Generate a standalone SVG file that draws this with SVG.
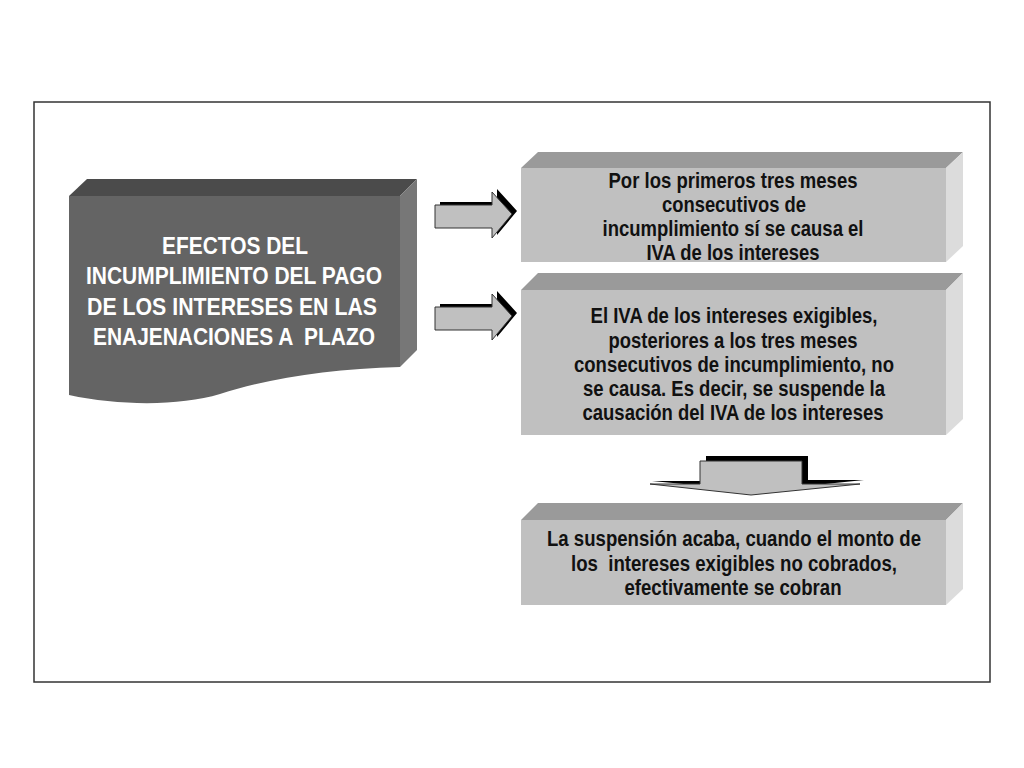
<svg xmlns="http://www.w3.org/2000/svg" width="1024" height="768" viewBox="0 0 1024 768">
<style>
.lt{font-family:"Liberation Sans",Arial,sans-serif;font-weight:bold;font-size:23.5px;fill:#ffffff;text-anchor:middle}
.bt{font-family:"Liberation Sans",Arial,sans-serif;font-weight:bold;font-size:22.5px;fill:#111111;text-anchor:middle}
.front{fill:#c0c0c0}
.top{fill:#9a9a9a}
.side{fill:#dcdcdc}
.arr{fill:#c0c0c0;stroke:#333333;stroke-width:1}
.sh{fill:#000000}
</style>
<rect x="0" y="0" width="1024" height="768" fill="#ffffff"/>
<rect x="34" y="102" width="956" height="580" fill="none" stroke="#333333" stroke-width="1.5"/>

<g id="main">
<polygon points="69,196 87,179 417,179 400,196" fill="#4b4b4b"/>
<polygon points="400,196 417,179 417,350 400,367" fill="#777777"/>
<path d="M69,196 L400,196 L400,367 C330,369 270,378 220,394 C180,406 120,406 69,395 Z" fill="#646464"/>
<text class="lt" x="235" y="253.5" textLength="146" lengthAdjust="spacingAndGlyphs">EFECTOS DEL</text>
<text class="lt" x="234" y="284" textLength="296" lengthAdjust="spacingAndGlyphs">INCUMPLIMIENTO DEL PAGO</text>
<text class="lt" x="232" y="314.5" textLength="290" lengthAdjust="spacingAndGlyphs">DE LOS INTERESES EN LAS</text>
<text class="lt" x="234" y="344.5" textLength="282" lengthAdjust="spacingAndGlyphs" xml:space="preserve">ENAJENACIONES A  PLAZO</text>
</g>

<g id="box1">
<polygon class="top" points="521,168 538,152 963,152 946,168"/>
<polygon class="side" points="946,168 963,152 963,246 946,262"/>
<rect class="front" x="521" y="168" width="425" height="94"/>
<text class="bt" x="733" y="188" textLength="249" lengthAdjust="spacingAndGlyphs">Por los primeros tres meses</text>
<text class="bt" x="734" y="212" textLength="144" lengthAdjust="spacingAndGlyphs">consecutivos de</text>
<text class="bt" x="733" y="236" textLength="261" lengthAdjust="spacingAndGlyphs">incumplimiento sí se causa el</text>
<text class="bt" x="733" y="260" textLength="173" lengthAdjust="spacingAndGlyphs">IVA de los intereses</text>
</g>

<g id="box2">
<polygon class="top" points="521,290 538,273 963,273 946,290"/>
<polygon class="side" points="946,290 963,273 963,419 946,435"/>
<rect class="front" x="521" y="290" width="425" height="145"/>
<text class="bt" x="734" y="323" textLength="287" lengthAdjust="spacingAndGlyphs">El IVA de los intereses exigibles,</text>
<text class="bt" x="733" y="347.5" textLength="249" lengthAdjust="spacingAndGlyphs">posteriores a los tres meses</text>
<text class="bt" x="734" y="371.5" textLength="320" lengthAdjust="spacingAndGlyphs">consecutivos de incumplimiento, no</text>
<text class="bt" x="734" y="396" textLength="302" lengthAdjust="spacingAndGlyphs">se causa. Es decir, se suspende la</text>
<text class="bt" x="733" y="420" textLength="301" lengthAdjust="spacingAndGlyphs">causación del IVA de los intereses</text>
</g>

<g id="box3">
<polygon class="top" points="521,520 538,503 963,503 946,520"/>
<polygon class="side" points="946,520 963,503 963,589 946,605"/>
<rect class="front" x="521" y="520" width="425" height="85"/>
<text class="bt" x="734" y="546" textLength="374" lengthAdjust="spacingAndGlyphs">La suspensión acaba, cuando el monto de</text>
<text class="bt" x="734" y="570.5" textLength="326" lengthAdjust="spacingAndGlyphs" xml:space="preserve">los  intereses exigibles no cobrados,</text>
<text class="bt" x="733" y="595" textLength="217" lengthAdjust="spacingAndGlyphs">efectivamente se cobran</text>
</g>

<g id="connectors">
<polygon class="sh" points="440,202 497,202 497,189 517,211 497,235 497,225 440,225"/>
<polygon class="arr" points="435,205 492,205 492,192 512,214 492,238 492,228 435,228"/>
<polygon class="sh" points="440,304 497,304 497,291 517,313 497,337 497,327 440,327"/>
<polygon class="arr" points="435,307 492,307 492,294 512,316 492,340 492,330 435,330"/>
<polygon class="sh" points="706,456 808,456 808,480 864,480 757,491 652,481 706,481"/>
<polygon class="arr" points="700,461 802,461 802,484 860,484 751,495 650,484 700,484"/>
</g>
</svg>
